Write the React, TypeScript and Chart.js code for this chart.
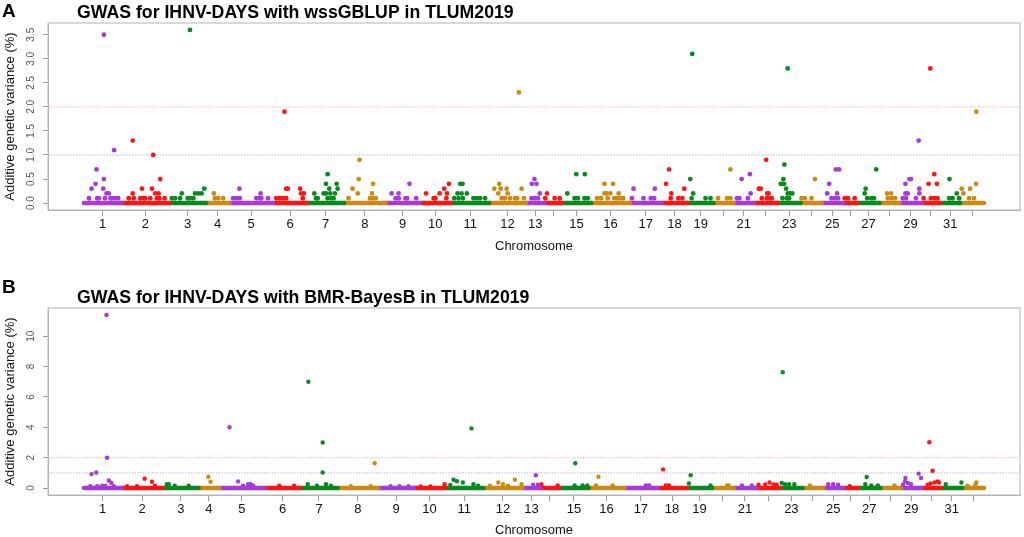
import { useEffect, useRef } from "react";
import { Chart, registerables, type Plugin } from "chart.js";

Chart.register(...registerables);

const fontFamily = "'Liberation Sans', Arial, sans-serif";

// chromosome tick labels (R skips some when crowded)
const axisLabels = [
  "1", "2", "3", "4", "5", "6", "7", "8", "9", "10", "11", "12", "13", "", "15", "16",
  "17", "18", "19", "", "21", "", "23", "", "25", "", "27", "", "29", "", "31", "",
];
const chromColors = ["#a83ad8", "#ff1414", "#0a8a1e", "#cc8a14"];
const thresholds = [1, 2];
const thresholdColors = ["#a4a4dc", "#f4a4a4"];

// ---- panel A: wssGBLUP ----
// cumulative end position of each chromosome
const chromEndA = [
  37.6, 86, 122.6, 146, 190, 224.3, 261.6, 303.3, 337.3, 369, 407.6, 444.3, 463.3, 480.6, 510, 549,
  580.6, 607, 633.3, 653.3, 673.3, 697.6, 720.6, 741.6, 763.3, 777.6, 800, 820, 842.3, 861, 881, 905,
];
const snpPosA = [
  5.0, 7.6, 11.6, 12.6, 13.3, 15.0, 19.3, 20.0, 20.0, 21.0, 22.6, 25.0, 26.6, 28.3, 30.3, 31.6, 34.3,
  45.0, 49.0, 49.0, 50.0, 56.6, 58.3, 60.0, 61.6, 66.6, 68.3, 69.6, 71.6, 73.3, 75.0, 75.8, 76.6, 81.0,
  88.3, 91.6, 96.6, 98.3, 104.3, 106.6, 106.6, 110.0, 111.6, 115.0, 118.3, 121.0,
  130.6, 131.6, 135.0, 140.0,
  150.0, 153.3, 156.3, 156.6, 173.3, 176.6, 177.6, 178.3, 185.0,
  193.3, 196.6, 200.0, 201.6, 203.3, 203.3, 205.0, 217.3, 218.3, 220.0, 221.0,
  231.6, 233.3, 235.0, 241.0, 243.3, 243.3, 245.0, 245.0, 246.6, 247.6, 248.3, 251.0, 252.3, 254.0, 255.0,
  266.0, 270.0, 275.3, 276.3, 277.0, 287.6, 289.6, 290.0, 290.6, 293.3,
  309.3, 313.3, 316.3, 316.6, 323.3, 325.0, 327.3, 334.0,
  344.0, 351.6, 353.3, 357.6, 362.3, 364.3, 365.0, 367.0,
  372.3, 375.6, 376.6, 378.3, 379.6, 380.6, 381.0, 385.0, 391.6, 395.0, 398.3, 403.3,
  412.6, 416.6, 417.6, 419.0, 420.0, 423.3, 425.0, 426.0, 428.3, 433.3, 435.6, 437.3, 440.0, 442.3,
  450.0, 450.3, 453.0, 453.3, 455.0, 456.6, 458.3,
  463.8, 465.6, 473.3, 478.3,
  486.0, 493.3, 495.0, 496.6, 503.3, 503.6, 506.6,
  516.0, 520.0, 523.3, 523.3, 525.6, 526.6, 529.3, 532.0, 533.3, 536.6, 537.6, 540.0, 542.3,
  551.0, 552.6, 562.6, 570.0, 573.3, 574.0,
  585.3, 588.3, 590.0, 590.6, 597.6, 601.6, 603.6,
  609.6, 611.0, 611.6, 612.6, 625.0, 630.0,
  637.6, 646.6, 650.0, 650.0,
  656.6, 659.0, 661.3, 667.6, 669.6, 670.3,
  678.6, 680.6, 681.6, 686.0, 686.6, 687.0, 688.3, 690.0, 691.6,
  700.6, 702.3, 702.3, 703.3, 704.0, 704.3, 706.0, 706.6, 707.6, 707.6, 709.0, 710.0, 712.3,
  721.6, 725.0, 731.6, 735.0,
  747.3, 749.3, 751.6, 755.0, 756.0, 757.3, 758.3, 759.3,
  765.0, 768.3, 775.0,
  785.0, 786.0, 787.6, 791.6, 794.3, 796.6,
  807.6, 808.3, 811.6, 812.3, 815.6,
  823.3, 826.0, 826.0, 826.6, 828.3, 830.0, 831.6, 836.6, 839.3, 840.0, 840.0,
  844.3, 849.3, 851.0, 851.6, 855.0, 855.0, 857.6, 858.3,
  870.0, 870.3, 873.3, 877.6, 880.0,
  882.6, 884.3, 890.0, 891.0, 895.0, 897.0, 897.3,
];
const snpVarA = [
  0.1, 0.3, 0.4, 0.7, 0.1, 0.1, 0.3, 0.5, 3.5, 0.1, 0.2, 0.2, 0.1, 0.1, 1.1, 0.1, 0.1,
  0.1, 1.3, 0.2, 0.1, 0.1, 0.3, 0.1, 0.1, 0.1, 0.3, 1.0, 0.2, 0.1, 0.2, 0.1, 0.5, 0.1,
  0.1, 0.1, 0.1, 0.2, 0.1, 0.1, 3.6, 0.1, 0.2, 0.2, 0.2, 0.3,
  0.2, 0.1, 0.1, 0.1,
  0.1, 0.1, 0.3, 0.1, 0.1, 0.1, 0.2, 0.1, 0.1,
  0.1, 0.1, 0.1, 1.9, 0.1, 0.3, 0.3, 0.3, 0.2, 0.1, 0.2,
  0.2, 0.1, 0.1, 0.2, 0.2, 0.4, 0.6, 0.1, 0.3, 0.2, 0.1, 0.1, 0.2, 0.4, 0.3,
  0.1, 0.3, 0.2, 0.5, 0.9, 0.1, 0.2, 0.1, 0.4, 0.1,
  0.2, 0.1, 0.2, 0.1, 0.1, 0.1, 0.4, 0.1,
  0.2, 0.1, 0.1, 0.2, 0.3, 0.1, 0.2, 0.4,
  0.1, 0.2, 0.1, 0.4, 0.2, 0.4, 0.1, 0.2, 0.1, 0.1, 0.1, 0.1,
  0.3, 0.2, 0.4, 0.3, 0.1, 0.1, 0.3, 0.2, 0.1, 0.1, 0.1, 2.3, 0.3, 0.1,
  0.1, 0.4, 0.5, 0.1, 0.4, 0.1, 0.2,
  0.1, 0.2, 0.1, 0.1,
  0.2, 0.1, 0.6, 0.1, 0.1, 0.6, 0.1,
  0.1, 0.1, 0.4, 0.2, 0.2, 0.1, 0.2, 0.4, 0.1, 0.1, 0.2, 0.1, 0.1,
  0.1, 0.3, 0.1, 0.1, 0.1, 0.3,
  0.4, 0.7, 0.1, 0.2, 0.1, 0.1, 0.3,
  0.5, 0.1, 3.1, 0.2, 0.1, 0.1,
  0.1, 0.1, 0.1, 0.7,
  0.1, 0.1, 0.5, 0.1, 0.6, 0.2,
  0.3, 0.3, 0.1, 0.9, 0.1, 0.2, 0.2, 0.1, 0.1,
  0.4, 0.4, 0.1, 0.5, 0.4, 0.8, 0.3, 0.1, 0.2, 2.8, 0.1, 0.2, 0.2,
  0.1, 0.1, 0.1, 0.5,
  0.2, 0.4, 0.1, 0.1, 0.7, 0.2, 0.1, 0.7,
  0.1, 0.1, 0.1,
  0.2, 0.3, 0.1, 0.1, 0.1, 0.7,
  0.2, 0.1, 0.2, 0.1, 0.1,
  0.1, 0.4, 0.2, 0.1, 0.2, 0.5, 0.5, 0.1, 1.3, 0.3, 0.2,
  0.1, 0.4, 2.8, 0.1, 0.1, 0.6, 0.4, 0.1,
  0.1, 0.5, 0.1, 0.2, 0.1,
  0.3, 0.2, 0.1, 0.3, 0.1, 0.4, 1.9,
];
const yTicksA = [0, 0.5, 1, 1.5, 2, 2.5, 3, 3.5];

// ---- panel B: BMR-BayesB ----
const chromEndB = [
  37.6, 79.3, 115.3, 136, 181.6, 217.6, 255, 296, 331.6, 363.3, 401.6, 441, 459, 477.6, 507.6, 543.3,
  576.6, 606, 631.6, 653.3, 676, 700, 722.6, 743.3, 763.3, 778.3, 801, 821.6, 842.3, 861.6, 883.3, 905,
];
const snpPosB = [
  6.3, 7.6, 12.3, 13.3, 18.3, 21.3, 22.6, 23.3, 25.0, 27.6, 30.0,
  43.3, 53.3, 61.0, 68.3, 71.3,
  83.3, 85.3, 91.3, 105.3,
  125.0, 127.3,
  146.3, 155.0, 160.0, 165.0, 167.6, 170.3,
  196.3, 211.3,
  225.0, 225.6, 234.3, 240.0, 240.0, 243.3, 248.3,
  268.3, 288.3, 292.3,
  308.3, 317.3, 326.3,
  338.3, 348.3, 362.6,
  368.3, 371.6, 375.0, 381.0, 389.6, 391.6, 396.3,
  408.3, 416.6, 421.3, 426.3, 433.3, 440.0,
  451.6, 454.3, 456.3,
  460.0, 476.3,
  493.3, 494.0, 501.3, 506.0,
  515.0, 517.3, 531.6,
  565.0, 568.3,
  582.3, 585.0, 588.3,
  608.3, 610.0, 630.0,
  646.6, 648.3,
  661.6, 671.6,
  678.3, 685.0, 689.3, 693.3, 696.6,
  701.6, 702.6, 705.0, 709.0, 714.3,
  730.0,
  748.3, 753.3, 758.3,
  770.0,
  785.6, 787.0, 791.6, 798.3,
  815.0,
  823.6, 825.6, 826.0, 828.3, 831.6, 839.3, 841.6,
  848.3, 850.0, 851.3, 853.3, 855.3, 858.3, 859.8,
  866.6, 882.3,
  888.3, 896.3, 897.3,
];
const snpVarB = [
  0.12, 0.92, 1.03, 0.12, 0.15, 0.15, 11.4, 2.0, 0.5, 0.33, 0.12,
  0.12, 0.12, 0.62, 0.42, 0.15,
  0.25, 0.25, 0.15, 0.15,
  0.75, 0.42,
  4.0, 0.44, 0.15, 0.25, 0.25, 0.15,
  0.15, 0.15,
  0.26, 7.0, 0.15, 1.03, 3.0, 0.26, 0.15,
  0.12, 0.12, 1.63,
  0.12, 0.12, 0.12,
  0.1, 0.1, 0.26,
  0.2, 0.55, 0.45, 0.37, 3.93, 0.26, 0.15,
  0.15, 0.37, 0.26, 0.15, 0.55, 0.26,
  0.22, 0.84, 0.22,
  0.26, 0.17,
  0.17, 1.63, 0.17, 0.17,
  0.17, 0.75, 0.17,
  0.17, 0.17,
  1.23, 0.17, 0.17,
  0.3, 0.84, 0.17,
  0.17, 0.17,
  0.17, 0.17,
  0.22, 0.24, 0.37, 0.24, 0.22,
  0.33, 7.63, 0.26, 0.26, 0.26,
  0.17,
  0.26, 0.26, 0.22,
  0.12,
  0.26, 0.73, 0.17, 0.17,
  0.17,
  0.22, 0.44, 0.66, 0.33, 0.26, 0.95, 0.66,
  0.22, 3.02, 0.3, 1.14, 0.37, 0.44, 0.37,
  0.26, 0.37,
  0.15, 0.2, 0.37,
];
const yTicksB = [0, 2, 4, 6, 8, 10];

type PanelProps = {
  letter: string;
  title: string;
  chromEnds: number[];
  positions: number[];
  values: number[];
  yTicks: number[];
  decimals: number;
  height: number;
  plotTop: number;
  xAxisHeight: number;
  letterBaseline: number;
  titleBaseline: number;
  xTitlePad: number;
  pointRadius: number;
};

function ManhattanPanel(props: PanelProps) {
  const canvasRef = useRef<HTMLCanvasElement | null>(null);

  useEffect(() => {
    const canvas = canvasRef.current;
    if (!canvas) return;

    const { chromEnds, positions, values, yTicks, decimals } = props;
    const total = chromEnds[chromEnds.length - 1];
    const starts = chromEnds.map((_, i) => (i === 0 ? 0 : chromEnds[i - 1]));
    const centers = chromEnds.map((end, i) => (starts[i] + end) / 2);
    const chromOf = (x: number) => {
      const i = chromEnds.findIndex((end) => x <= end);
      return i < 0 ? chromEnds.length - 1 : i;
    };
    const xMin = -0.04 * total;
    const xMax = total * 1.04;
    const vMax = Math.max(...values);

    const decor: Plugin<"scatter"> = {
      id: "decor",
      afterDraw(chart) {
        const { ctx, chartArea: a } = chart;
        const yScale = chart.scales.y;
        ctx.save();
        ctx.strokeStyle = "#b4b4b4";
        ctx.lineWidth = 1;
        ctx.strokeRect(a.left, a.top, a.right - a.left, a.bottom - a.top);

        // y tick labels, rotated as in base R
        ctx.fillStyle = "#555";
        ctx.font = `10px ${fontFamily}`;
        ctx.textAlign = "center";
        ctx.textBaseline = "middle";
        for (const v of yTicks) {
          ctx.save();
          ctx.translate(31.5, yScale.getPixelForValue(v));
          ctx.rotate(-Math.PI / 2);
          ctx.fillText(v.toFixed(decimals), 0, 0);
          ctx.restore();
        }

        ctx.fillStyle = "#000";
        ctx.textAlign = "left";
        ctx.textBaseline = "alphabetic";
        ctx.font = `bold 19px ${fontFamily}`;
        ctx.fillText(props.letter, 2, props.letterBaseline);
        ctx.font = `bold 17.7px ${fontFamily}`;
        ctx.fillText(props.title, 77, props.titleBaseline);
        ctx.restore();
      },
    };

    const chart = new Chart(canvas, {
      type: "scatter",
      data: {
        datasets: [
          {
            data: positions.map((x, i) => ({ x, y: values[i] })),
            pointRadius: props.pointRadius,
            pointBorderWidth: 0,
            pointBackgroundColor: positions.map((x) => chromColors[chromOf(x) % 4]),
          },
          ...thresholds.map((t, i) => ({
            data: [
              { x: xMin, y: t },
              { x: xMax, y: t },
            ],
            showLine: true,
            pointRadius: 0,
            borderWidth: 1,
            borderDash: [1.2, 1.6],
            borderColor: thresholdColors[i],
          })),
          // dense band of SNPs sitting at zero along each chromosome
          ...chromEnds.map((end, i) => ({
            data: [
              { x: starts[i], y: 0 },
              { x: end, y: 0 },
            ],
            showLine: true,
            pointRadius: 0,
            borderWidth: 4.6,
            borderCapStyle: "round" as const,
            borderColor: chromColors[i % 4],
          })),
        ],
      },
      options: {
        responsive: true,
        maintainAspectRatio: false,
        animation: false,
        events: [],
        layout: { padding: { left: 0, right: 3, top: props.plotTop, bottom: 0 } },
        plugins: {
          legend: { display: false },
          tooltip: { enabled: false },
        },
        scales: {
          x: {
            type: "linear",
            min: xMin,
            max: xMax,
            afterBuildTicks: (scale) => {
              scale.ticks = centers.map((value) => ({ value }));
            },
            afterFit: (scale) => {
              scale.height = props.xAxisHeight;
            },
            ticks: {
              autoSkip: false,
              maxRotation: 0,
              padding: 1,
              color: "#111",
              font: { family: fontFamily, size: 13 },
              callback: (_v, index) => axisLabels[index],
            },
            grid: { drawOnChartArea: false, tickLength: 6, color: "#9a9a9a" },
            border: { color: "#b4b4b4" },
            title: {
              display: true,
              text: "Chromosome",
              color: "#111",
              font: { family: fontFamily, size: 13, lineHeight: 1 },
              padding: { top: 0, bottom: props.xTitlePad },
            },
          },
          y: {
            type: "linear",
            min: -0.04 * vMax,
            max: vMax * 1.04,
            afterBuildTicks: (scale) => {
              scale.ticks = yTicks.map((value) => ({ value }));
            },
            afterFit: (scale) => {
              scale.width = 48;
            },
            ticks: { display: false },
            grid: { drawOnChartArea: false, tickLength: 5, color: "#9a9a9a" },
            border: { color: "#b4b4b4" },
            title: {
              display: true,
              text: "Additive genetic variance (%)",
              color: "#111",
              font: { family: fontFamily, size: 13, lineHeight: 1 },
              padding: { top: 3.5, bottom: 0 },
            },
          },
        },
      },
      plugins: [decor],
    });

    return () => {
      chart.destroy();
    };
  }, [props]);

  return (
    <div style={{ position: "relative", width: 1024, height: props.height }}>
      <canvas ref={canvasRef} />
    </div>
  );
}

export default function App() {
  return (
    <div style={{ position: "absolute", left: 0, top: 0, width: 1024, height: 537, background: "#fff" }}>
      <ManhattanPanel
        letter="A"
        title="GWAS for IHNV-DAYS with wssGBLUP in TLUM2019"
        chromEnds={chromEndA}
        positions={snpPosA}
        values={snpVarA}
        yTicks={yTicksA}
        decimals={1}
        height={268}
        plotTop={23}
        xAxisHeight={58}
        letterBaseline={17.3}
        titleBaseline={18.3}
        xTitlePad={14.7}
        pointRadius={2.4}
      />
      <ManhattanPanel
        letter="B"
        title="GWAS for IHNV-DAYS with BMR-BayesB in TLUM2019"
        chromEnds={chromEndB}
        positions={snpPosB}
        values={snpVarB}
        yTicks={yTicksB}
        decimals={0}
        height={269}
        plotTop={40}
        xAxisHeight={42}
        letterBaseline={24.7}
        titleBaseline={35.3}
        xTitlePad={0.5}
        pointRadius={2.2}
      />
    </div>
  );
}
